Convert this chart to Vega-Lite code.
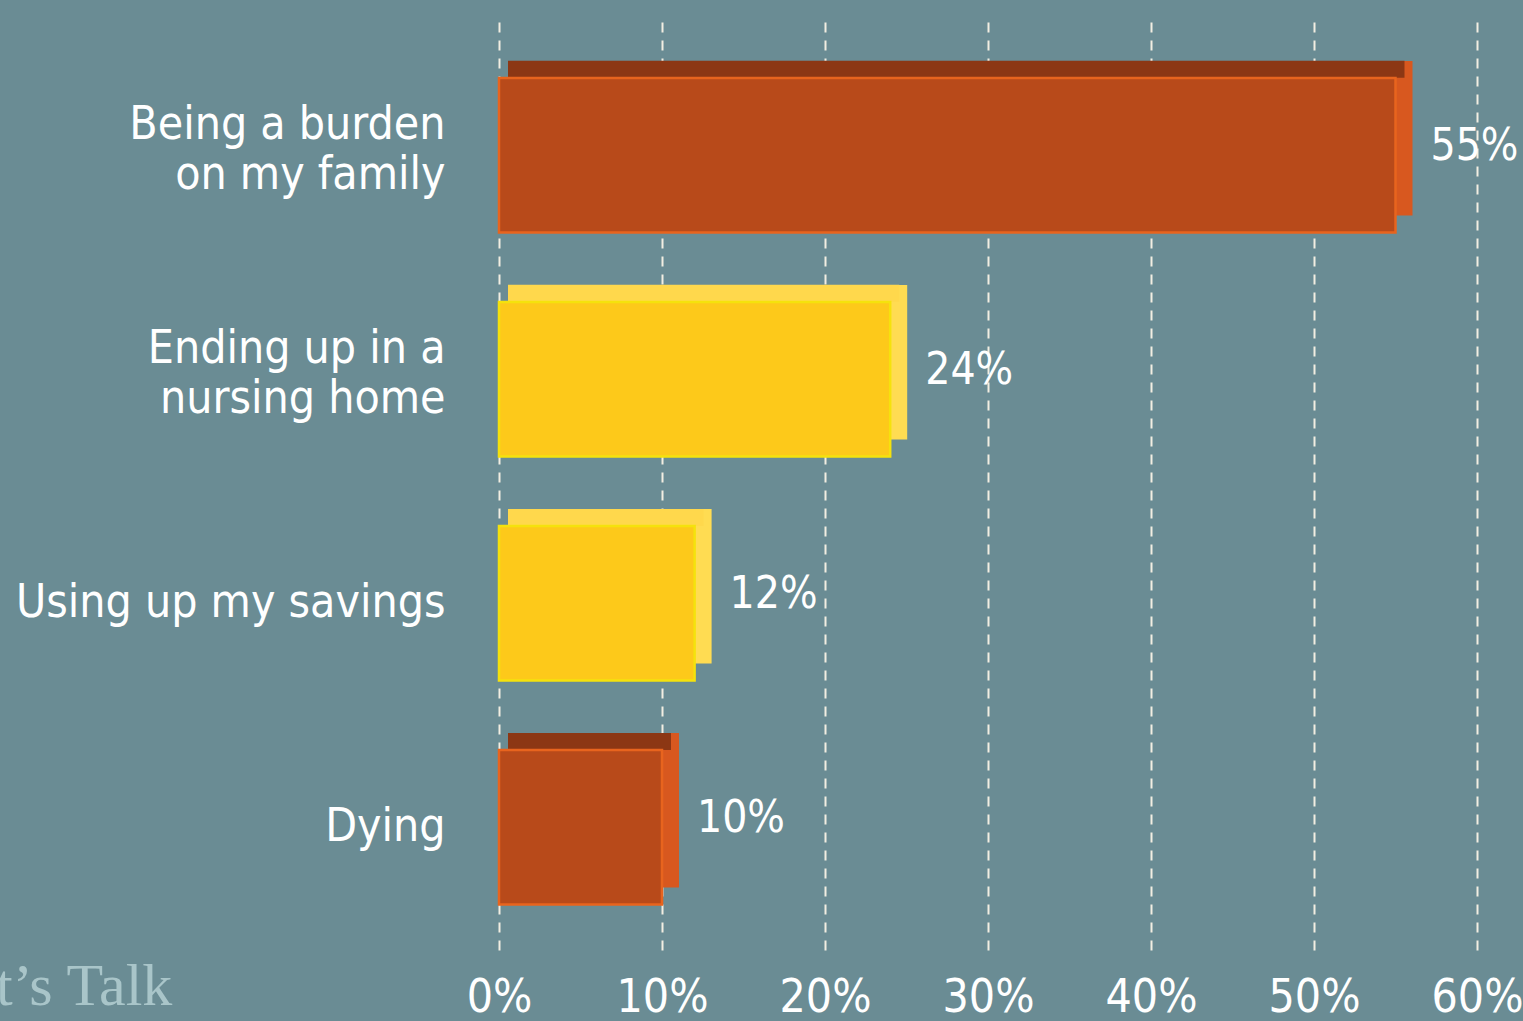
{
  "$schema": "https://vega.github.io/schema/vega-lite/v6.json",
  "width": 978,
  "height": 935,
  "autosize": {"type": "none"},
  "padding": {"left": 499, "top": 15, "right": 46, "bottom": 71},
  "background": "#6a8c94",
  "title": {
    "text": "t’s Talk",
    "orient": "bottom",
    "anchor": "start",
    "frame": "group",
    "font": "Liberation Serif",
    "fontSize": 60,
    "fontWeight": "normal",
    "color": "#a9c5c9",
    "dx": -503,
    "offset": -62
  },
  "config": {
    "view": {"stroke": null},
    "font": "DejaVu Sans Condensed, sans-serif"
  },
  "data": {
    "values": [
      {"cause": "Being a burden|on my family", "pct": 55, "label": "55%"},
      {"cause": "Ending up in a|nursing home", "pct": 24, "label": "24%"},
      {"cause": "Using up my savings", "pct": 12, "label": "12%"},
      {"cause": "Dying", "pct": 10, "label": "10%"}
    ]
  },
  "encoding": {
    "y": {
      "field": "cause",
      "type": "nominal",
      "sort": null,
      "scale": {"paddingInner": 0.31, "paddingOuter": 0.242, "align": 0.58},
      "axis": {
        "title": null,
        "domain": false,
        "ticks": false,
        "labelExpr": "split(datum.value, '|')",
        "labelFont": "DejaVu Sans Condensed, sans-serif",
        "labelFontSize": 46,
        "labelLineHeight": 50,
        "labelColor": "#ffffff",
        "labelPadding": 54,
        "labelAlign": "right",
        "labelLimit": 600,
        "labelOffset": {"condition": {"test": "indexof(datum.value, '|') >= 0", "value": -30}, "value": 0}
      }
    },
    "x": {
      "field": "pct",
      "type": "quantitative",
      "scale": {"domain": [0, 60], "nice": false},
      "axis": {
        "title": null,
        "values": [0, 10, 20, 30, 40, 50, 60],
        "labelExpr": "datum.value + '%'",
        "domain": false,
        "ticks": false,
        "grid": true,
        "gridColor": "#f2eee2",
        "gridDash": [10, 8],
        "gridWidth": 2,
        "gridOpacity": 1,
        "labelFont": "DejaVu Sans Condensed, sans-serif",
        "labelFontSize": 46,
        "labelColor": "#ffffff",
        "labelBaseline": "top",
        "labelPadding": 25,
        "labelFlush": false,
        "labelOverlap": false
      }
    }
  },
  "layer": [
    {
      "mark": {"type": "bar", "xOffset": 17, "yOffset": -17},
      "encoding": {
        "color": {
          "condition": {"test": "datum.cause == 'Dying' || datum.pct > 50", "value": "#d8581f"},
          "value": "#ffdc52"
        }
      }
    },
    {
      "mark": {"type": "bar", "height": 17, "xOffset": 9, "yOffset": -85.8},
      "encoding": {
        "color": {
          "condition": {"test": "datum.cause == 'Dying' || datum.pct > 50", "value": "#8c3714"},
          "value": "#ffd84c"
        }
      }
    },
    {
      "mark": {"type": "bar", "strokeWidth": 2.5},
      "encoding": {
        "color": {
          "condition": {"test": "datum.cause == 'Dying' || datum.pct > 50", "value": "#b84a1a"},
          "value": "#fdc91a"
        },
        "stroke": {
          "condition": {"test": "datum.cause == 'Dying' || datum.pct > 50", "value": "#e8641e"},
          "value": "#f5e20c"
        }
      }
    },
    {
      "mark": {
        "type": "text",
        "align": "left",
        "baseline": "middle",
        "dx": 35,
        "dy": -8,
        "fontSize": 44,
        "color": "#ffffff",
        "font": "DejaVu Sans Condensed, sans-serif"
      },
      "encoding": {
        "text": {"field": "label"}
      }
    }
  ]
}
